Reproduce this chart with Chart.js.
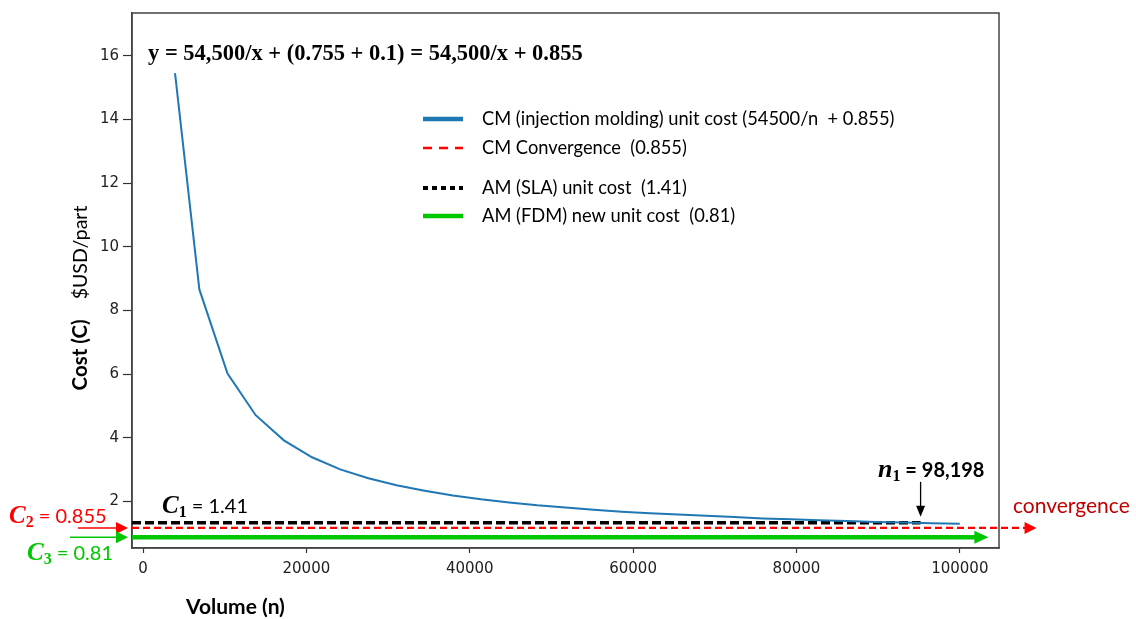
<!DOCTYPE html>
<html>
<head>
<meta charset="utf-8">
<script src="https://cdn.jsdelivr.net/npm/chart.js@4.4.1/dist/chart.umd.min.js"></script>
<style>
html,body{margin:0;padding:0;background:#fff;}
#c{display:block;}
</style>
</head>
<body>
<canvas id="c" width="1136" height="619"></canvas>
<script>
// ---- data ----
const volume = [3917, 6897, 10345, 13793, 17241, 20690, 24138, 27586, 31034, 34483, 37931, 41379, 44828, 48276, 51724, 55172, 58621, 62069, 65517, 68966, 72414, 75862, 79310, 82759, 86207, 89655, 93103, 96552, 100000];
const costCM = [15.45, 8.66, 6.02, 4.71, 3.92, 3.39, 3.01, 2.73, 2.51, 2.34, 2.19, 2.07, 1.97, 1.88, 1.81, 1.74, 1.68, 1.63, 1.59, 1.55, 1.51, 1.47, 1.44, 1.41, 1.39, 1.36, 1.34, 1.32, 1.30];
const levelSLA = 1.33;      // drawn level of black dashed line
const levelConv = 1.17;     // drawn level of red dashed line
const levelFDM = 0.88;      // drawn level of green line
const lineStartX = -1350;
const slaEndX = 95200;
const convEndX = 109400;
const fdmEndX = 103500;
const xTicks = [0, 20000, 40000, 60000, 80000, 100000];
const yTicks = [2, 4, 6, 8, 10, 12, 14, 16];
const legendLabels = [
  'CM (injection molding) unit cost (54500/n  + 0.855)',
  'CM Convergence  (0.855)',
  'AM (SLA) unit cost  (1.41)',
  'AM (FDM) new unit cost  (0.81)'
];
const equationText = 'y = 54,500/x + (0.755 + 0.1) = 54,500/x + 0.855';

const BLUE = '#1f77b4', RED = '#ff0000', GREEN = '#00c800', BLACK = '#000000';
const SANS = 'Lato, "Open Sans", sans-serif';

function drawRich(ctx, x, y, parts, align) {
  let total = 0;
  parts.forEach(p => { ctx.font = p.font; p.w = ctx.measureText(p.t).width; total += p.w; });
  let cx = align === 'center' ? x - total / 2 : x;
  parts.forEach(p => {
    ctx.font = p.font; ctx.fillStyle = p.color; ctx.textAlign = 'left'; ctx.textBaseline = 'alphabetic';
    ctx.fillText(p.t, cx, y + (p.dy || 0));
    cx += p.w;
  });
}
function arrowHead(ctx, tipX, tipY, len, half, color, dir) {
  ctx.save();
  ctx.fillStyle = color;
  ctx.beginPath();
  if (dir === 'down') {
    ctx.moveTo(tipX, tipY); ctx.lineTo(tipX - half, tipY - len); ctx.lineTo(tipX + half, tipY - len);
  } else {
    ctx.moveTo(tipX, tipY); ctx.lineTo(tipX - len, tipY - half); ctx.lineTo(tipX - len, tipY + half);
  }
  ctx.closePath(); ctx.fill();
  ctx.restore();
}

const framePlugin = {
  id: 'frame',
  beforeDatasetsDraw(chart) {
    const {ctx, chartArea: a} = chart;
    ctx.save();
    ctx.strokeStyle = '#444'; ctx.lineWidth = 1.5;
    ctx.strokeRect(a.left, a.top, a.right - a.left, a.bottom - a.top);
    ctx.restore();
  },
  afterDatasetsDraw(chart) {
    const {ctx, chartArea: a, scales: {x, y}} = chart;
    ctx.save();
    // arrow heads at line ends
    arrowHead(ctx, x.getPixelForValue(convEndX), y.getPixelForValue(levelConv), 12, 6, RED, 'right');
    arrowHead(ctx, x.getPixelForValue(fdmEndX), y.getPixelForValue(levelFDM), 14, 6.5, GREEN, 'right');
    // left-side pointer arrows
    const yc = y.getPixelForValue(levelConv), yg = y.getPixelForValue(levelFDM);
    ctx.lineWidth = 1.5;
    ctx.strokeStyle = RED; ctx.beginPath(); ctx.moveTo(a.left - 54, yc); ctx.lineTo(a.left - 10, yc); ctx.stroke();
    arrowHead(ctx, a.left - 4, yc, 12, 6, RED, 'right');
    ctx.strokeStyle = GREEN; ctx.beginPath(); ctx.moveTo(a.left - 62, yg); ctx.lineTo(a.left - 10, yg); ctx.stroke();
    arrowHead(ctx, a.left - 4, yg, 12, 6, GREEN, 'right');
    // n1 arrow
    const nx = x.getPixelForValue(slaEndX), ns = y.getPixelForValue(levelSLA);
    ctx.strokeStyle = BLACK; ctx.lineWidth = 1.3;
    ctx.beginPath(); ctx.moveTo(nx, ns - 41); ctx.lineTo(nx, ns - 12); ctx.stroke();
    arrowHead(ctx, nx, ns - 6, 11, 4.5, BLACK, 'down');

    // equation
    ctx.font = 'bold 22.5px "Liberation Serif", "Times New Roman", serif';
    ctx.fillStyle = '#000'; ctx.textAlign = 'left'; ctx.textBaseline = 'alphabetic';
    ctx.fillText(equationText, a.left + 16, 60);

    // legend
    const legY = [119, 148, 188, 216];
    const legStyles = [
      {c: BLUE, w: 4.5, d: []},
      {c: RED, w: 2.5, d: [9, 7]},
      {c: BLACK, w: 4, d: [5, 4]},
      {c: GREEN, w: 4.5, d: []}
    ];
    legendLabels.forEach((lab, i) => {
      const s = legStyles[i];
      ctx.strokeStyle = s.c; ctx.lineWidth = s.w; ctx.setLineDash(s.d); ctx.lineCap = 'butt';
      ctx.beginPath(); ctx.moveTo(423, legY[i]); ctx.lineTo(463, legY[i]); ctx.stroke();
      ctx.setLineDash([]);
      ctx.font = '18.3px ' + SANS; ctx.fillStyle = '#000'; ctx.textBaseline = 'middle';
      ctx.fillText(lab, 482, legY[i]);
    });
    ctx.textBaseline = 'alphabetic';

    const mathF = 'italic bold 25px "Liberation Serif", serif';
    const subF = 'bold 16px "Liberation Serif", serif';
    const txtF = '20px ' + SANS;
    // C1
    drawRich(ctx, 162, 513, [
      {t: 'C', font: mathF, color: BLACK},
      {t: '1', font: subF, color: BLACK, dy: 4},
      {t: ' = 1.41', font: txtF, color: BLACK}
    ]);
    // C2
    drawRich(ctx, 9, 523, [
      {t: 'C', font: mathF, color: RED},
      {t: '2', font: subF, color: RED, dy: 4},
      {t: ' = 0.855', font: txtF, color: RED}
    ]);
    // C3
    drawRich(ctx, 27, 560, [
      {t: 'C', font: mathF, color: GREEN},
      {t: '3', font: subF, color: GREEN, dy: 4},
      {t: ' = 0.81', font: txtF, color: GREEN}
    ]);
    // n1
    drawRich(ctx, 878, 477, [
      {t: 'n', font: 'italic bold 26px "Liberation Serif", serif', color: BLACK},
      {t: '1', font: subF, color: BLACK, dy: 4},
      {t: ' = 98,198', font: 'bold 20px ' + SANS, color: BLACK}
    ]);
    // convergence
    ctx.font = '21px ' + SANS; ctx.fillStyle = '#c00000'; ctx.textBaseline = 'middle';
    ctx.fillText('convergence', 1013, 506);

    // axis titles
    ctx.textBaseline = 'middle'; ctx.fillStyle = '#000';
    ctx.font = 'bold 21px ' + SANS;
    ctx.fillText('Volume (n)', 186, 607);
    ctx.save();
    ctx.translate(80, 298); ctx.rotate(-Math.PI / 2);
    drawRich(ctx, 0, 7, [
      {t: 'Cost (C)', font: 'bold 20.5px ' + SANS, color: '#000'},
      {t: '    $USD/part', font: '19.5px ' + SANS, color: '#000'}
    ], 'center');
    ctx.restore();
    ctx.restore();
  }
};

new Chart(document.getElementById('c'), {
  type: 'line',
  data: {
    datasets: [
      {data: volume.map((v, i) => ({x: v, y: costCM[i]})), borderColor: BLUE, borderWidth: 2, pointRadius: 0, tension: 0, fill: false},
      {data: [{x: lineStartX, y: levelConv}, {x: convEndX - 600, y: levelConv}], borderColor: RED, borderWidth: 2.2, borderDash: [7, 4], pointRadius: 0, clip: false},
      {data: [{x: lineStartX, y: levelSLA}, {x: slaEndX, y: levelSLA}], borderColor: BLACK, borderWidth: 3.5, borderDash: [9, 4], pointRadius: 0, clip: false},
      {data: [{x: lineStartX, y: levelFDM}, {x: fdmEndX - 800, y: levelFDM}], borderColor: GREEN, borderWidth: 4.5, pointRadius: 0, clip: false}
    ]
  },
  options: {
    responsive: false,
    devicePixelRatio: 1,
    animation: false,
    layout: {padding: {top: 10, right: 137, bottom: 0, left: 0}},
    plugins: {legend: {display: false}, tooltip: {enabled: false}},
    scales: {
      x: {
        type: 'linear', min: -1350, max: 104800,
        afterBuildTicks: s => { s.ticks = xTicks.map(v => ({value: v})); },
        afterFit: s => { s.height = 71; },
        ticks: {font: {family: 'DejaVu Sans', size: 15}, color: '#222', padding: 7, maxRotation: 0, autoSkip: false, callback: v => String(v)},
        grid: {display: true, drawOnChartArea: false, drawTicks: true, tickLength: 5, tickColor: '#333', tickWidth: 1.2},
        border: {display: true, color: '#444', width: 1.5}
      },
      y: {
        type: 'linear', min: 0.54, max: 17.34,
        afterBuildTicks: s => { s.ticks = yTicks.map(v => ({value: v})); },
        afterFit: s => { s.width = 132; },
        ticks: {font: {family: 'DejaVu Sans', size: 15}, color: '#222', padding: 4, autoSkip: false, callback: v => String(v)},
        grid: {display: true, drawOnChartArea: false, drawTicks: true, tickLength: 9, tickColor: '#333', tickWidth: 1.2},
        border: {display: true, color: '#444', width: 1.5}
      }
    }
  },
  plugins: [framePlugin]
});
</script>
</body>
</html>
